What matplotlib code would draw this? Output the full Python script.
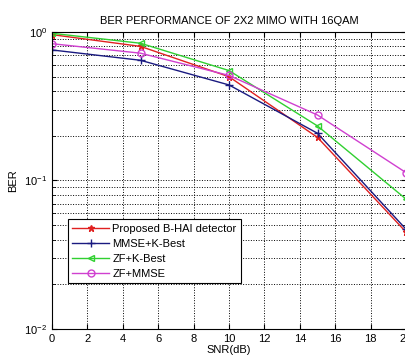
import matplotlib.pyplot as plt
from matplotlib.ticker import LogLocator, NullFormatter

plt.rcParams['font.family'] = ['Liberation Sans', 'DejaVu Sans']

snr = [0, 5, 10, 15, 20]
ber_proposed = [0.96, 0.80, 0.50, 0.195, 0.045]
ber_mmse_kbest = [0.757, 0.645, 0.44, 0.208, 0.047]
ber_zf_kbest = [0.98, 0.84, 0.55, 0.233, 0.075]
ber_zf_mmse = [0.834, 0.72, 0.51, 0.276, 0.113]

fig = plt.figure(figsize=(4.06, 3.58), dpi=100)
ax = fig.add_axes([52 / 406, 1 - 329 / 358, 354 / 406, 297 / 358])

ax.semilogy(snr, ber_proposed, color="#e02020", marker="*", ms=5, lw=1, label="Proposed B-HAI detector")
ax.semilogy(snr, ber_mmse_kbest, color="#1a1a80", marker="+", ms=6, lw=1, label="MMSE+K-Best")
ax.semilogy(snr, ber_zf_kbest, color="#30d030", marker="<", ms=5, mfc="none", lw=1, label="ZF+K-Best")
ax.semilogy(snr, ber_zf_mmse, color="#d040d0", marker="o", ms=5, mfc="none", lw=1, label="ZF+MMSE")

ax.set_xlim(0, 20)
ax.set_ylim(1e-2, 1)
ax.set_xticks(range(0, 21, 2))
ax.yaxis.set_minor_locator(LogLocator(subs=range(2, 10)))
ax.yaxis.set_minor_formatter(NullFormatter())
ax.tick_params(direction="in", top=True, right=True, labelsize=8, which="both")
ax.grid(True, which="major", ls=":", color="k", lw=0.7)
ax.grid(True, which="minor", axis="y", ls=":", color="k", lw=0.7)

ax.set_title("BER PERFORMANCE OF 2X2 MIMO WITH 16QAM", fontsize=8)
ax.set_xlabel("SNR(dB)", fontsize=8, labelpad=1)
ax.set_ylabel("BER", fontsize=8)

leg = ax.legend(loc="lower left", bbox_to_anchor=(0.045, 0.155), borderaxespad=0, fontsize=8,
                fancybox=False, edgecolor="k", framealpha=1, borderpad=0.4, labelspacing=0.45,
                handlelength=3.3, handletextpad=0.3)
leg.get_frame().set_linewidth(0.8)

fig.savefig("out.png", dpi=100)
